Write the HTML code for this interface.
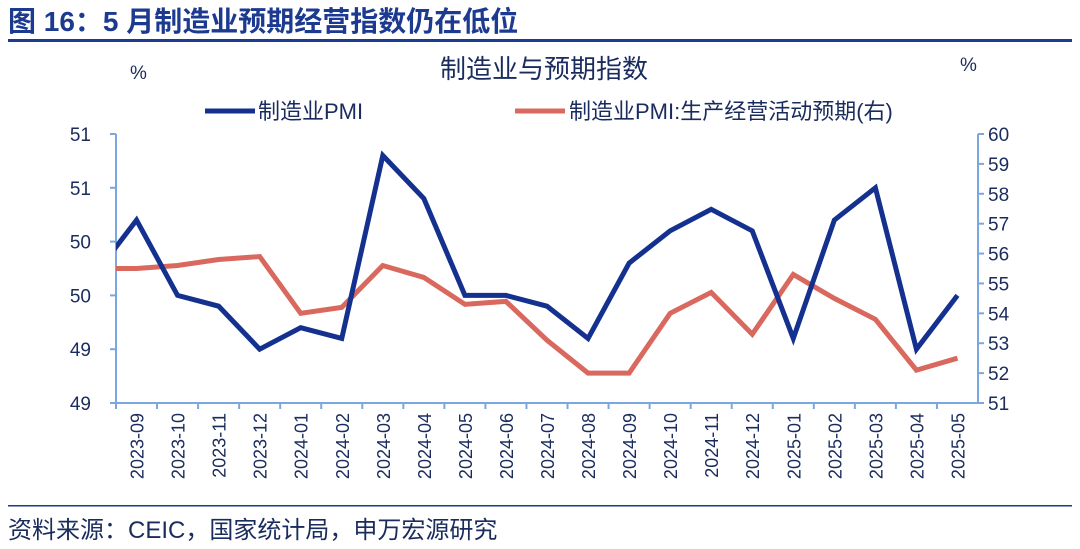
<!DOCTYPE html>
<html><head><meta charset="utf-8"><style>
body{margin:0;width:1080px;height:549px;background:#fff;overflow:hidden;font-family:"Liberation Sans","Noto Sans CJK SC",sans-serif}
svg{position:absolute;left:0;top:0}
</style></head><body>
<svg width="1080" height="549" id="c">
<text x="8" y="31" font-size="28" font-weight="bold" fill="#1c3a8f">图 16：5 月制造业预期经营指数仍在低位</text>
<rect x="8" y="39" width="1064" height="3" fill="#1c3a8f"/>
<text x="130" y="79" font-size="19" fill="#1a2b5e">%</text>
<text x="960" y="71" font-size="19" fill="#1a2b5e">%</text>
<text x="544" y="78" font-size="26" fill="#1a2b5e" text-anchor="middle">制造业与预期指数</text>
<g>
<line x1="205" y1="111" x2="255" y2="111" stroke="#14318f" stroke-width="5"/>
<text x="258" y="119" font-size="22" fill="#1a2b5e">制造业PMI</text>
<line x1="515" y1="111" x2="565" y2="111" stroke="#d9695f" stroke-width="5"/>
<text x="569" y="119" font-size="22" fill="#1a2b5e">制造业PMI:生产经营活动预期(右)</text>
</g>
<g id="axes"></g>
<g id="plot"></g>
<rect x="8" y="505" width="1064" height="1.5" fill="#1c3a8f"/>
<text x="8" y="538" font-size="24" fill="#1a2b5e">资料来源：CEIC，国家统计局，申万宏源研究</text>
</svg>
<script>
const categories=["2023-09","2023-10","2023-11","2023-12","2024-01","2024-02","2024-03","2024-04","2024-05","2024-06","2024-07","2024-08","2024-09","2024-10","2024-11","2024-12","2025-01","2025-02","2025-03","2025-04","2025-05"];
const pmi=[50.2,49.5,49.4,49.0,49.2,49.1,50.8,50.4,49.5,49.5,49.4,49.1,49.8,50.1,50.3,50.1,49.1,50.2,50.5,49.0,49.5];
const expect=[55.5,55.6,55.8,55.9,54.0,54.2,55.6,55.2,54.3,54.4,53.1,52.0,52.0,54.0,54.7,53.3,55.3,54.5,53.8,52.1,52.5];
const pmiPrev=49.7, expectPrev=55.5;
const leftTicks=[51.0,50.5,50.0,49.5,49.0,48.5];
const leftLabels=["51","51","50","50","49","49"];
const rightTicks=[60,59,58,57,56,55,54,53,52,51];
const NS="http://www.w3.org/2000/svg";
const X0=116,X1=978,Y0=134,Y1=403;
const bw=(X1-X0)/categories.length;
const x=i=>X0+bw*(i+0.5);
const yl=v=>Y1-(v-48.5)/(51.0-48.5)*(Y1-Y0);
const yr=v=>Y1-(v-51)/(60-51)*(Y1-Y0);
function el(t,a,p){const e=document.createElementNS(NS,t);for(const k in a)e.setAttribute(k,a[k]);p.appendChild(e);return e;}
const ax=document.getElementById('axes'),pl=document.getElementById('plot');
const AC="#7ba7de",TC="#1a2b5e";
let a=el('line',{x1:X0,y1:Y0,x2:X0,y2:Y1,stroke:AC,'stroke-width':2},ax);

a=el('line',{x1:X1,y1:Y0,x2:X1,y2:Y1,stroke:AC,'stroke-width':2},ax);

a=el('line',{x1:X0,y1:Y1,x2:X1,y2:Y1,stroke:AC,'stroke-width':2},ax);

leftTicks.forEach((v,i)=>{el('line',{x1:X0-6,y1:yl(v),x2:X0,y2:yl(v),stroke:AC,'stroke-width':2},ax);
const t=el('text',{x:X0-25,y:yl(v)+7,'font-size':19,fill:TC,'text-anchor':'end'},ax);t.textContent=leftLabels[i];
});
rightTicks.forEach(v=>{el('line',{x1:X1,y1:yr(v),x2:X1+6,y2:yr(v),stroke:AC,'stroke-width':2},ax);
const t=el('text',{x:X1+10,y:yr(v)+7,'font-size':19,fill:TC},ax);t.textContent=v;
});
categories.forEach((c,i)=>{el('line',{x1:X0+bw*i,y1:Y1,x2:X0+bw*i,y2:Y1+6,stroke:AC,'stroke-width':2},ax);
const t=el('text',{x:0,y:0,'font-size':18,fill:TC,'text-anchor':'end',transform:`translate(${x(i)+7},${Y1+10}) rotate(-90)`},ax);t.textContent=c;
});
el('clipPath',{id:'cp'},pl).appendChild(document.createElementNS(NS,'rect'));
const cr=pl.querySelector('#cp rect');cr.setAttribute('x',X0);cr.setAttribute('y',0);cr.setAttribute('width',X1-X0);cr.setAttribute('height',549);
function line(arr,prev,f,col,name){const pts=[[x(-1),f(prev)]].concat(arr.map((v,i)=>[x(i),f(v)]));
const p=el('polyline',{points:pts.map(q=>q.join(',')).join(' '),fill:'none',stroke:col,'stroke-width':5,'stroke-linejoin':'miter','clip-path':'url(#cp)'},pl);
}
line(expect,expectPrev,yr,"#d9695f",'expectation-line');
line(pmi,pmiPrev,yl,"#14318f",'pmi-line');
</script>
</body></html>
